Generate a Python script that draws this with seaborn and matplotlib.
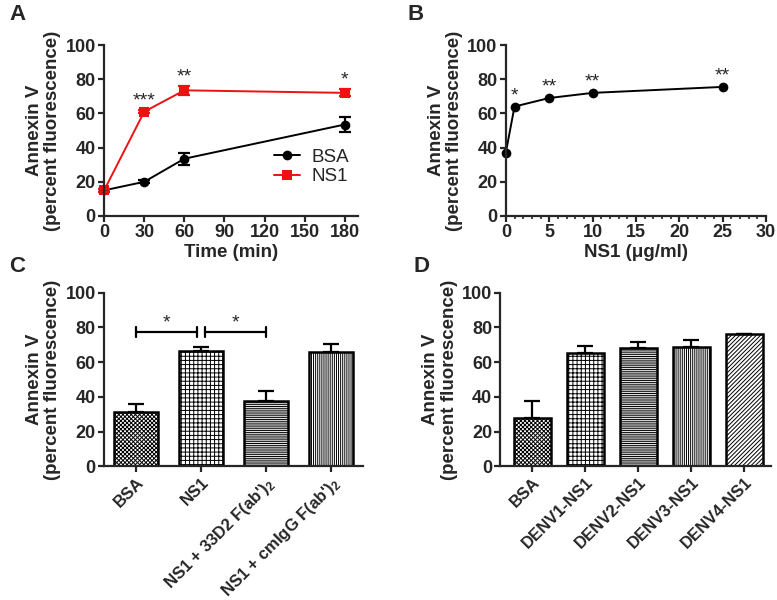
import numpy as np
import pandas as pd
import matplotlib
matplotlib.use("Agg")
import matplotlib.pyplot as plt
import seaborn as sns
from matplotlib.ticker import MultipleLocator

sns.set_style("ticks")
plt.rcParams['font.family'] = ['Liberation Sans', 'DejaVu Sans']
plt.rcParams['font.weight'] = 'bold'
plt.rcParams['axes.labelweight'] = 'bold'
plt.rcParams['mathtext.default'] = 'regular'
plt.rcParams['hatch.linewidth'] = 0.7
plt.rcParams['axes.linewidth'] = 1.6
plt.rcParams['xtick.major.width'] = 1.6
plt.rcParams['ytick.major.width'] = 1.6

# Panel A: time course
time_min = [0, 30, 60, 180]
bsa_time = [15, 20, 33.5, 53.5]
bsa_time_err = [0.8, 0.8, 3.5, 4.5]
ns1_time = [15, 61, 73.5, 72]
ns1_time_err = [0.8, 1.0, 2.5, 2.0]
stars_time = ['', '***', '**', '*']

# Panel B: dose response
dose = [0, 1, 5, 10, 25]
dose_resp = [37, 64, 69, 72, 75.5]
stars_dose = ['', '*', '**', '**', '**']

# Panel C: blocking
c_labels = ['BSA', 'NS1', "NS1 + 33D2 F(ab')$_2$", "NS1 + cmIgG F(ab')$_2$"]
c_values = [31, 66.5, 37.5, 66]
c_err = [5, 2.5, 6, 4.5]
c_hatch = ['xxxxxxxx', '++++', '---------', '||||||||']

# Panel D: serotypes
d_labels = ['BSA', 'DENV1-NS1', 'DENV2-NS1', 'DENV3-NS1', 'DENV4-NS1']
d_values = [28, 65.5, 68, 68.5, 76]
d_err = [9.5, 4, 3.5, 4, 0.5]
d_hatch = ['xxxxxxxx', '++++', '---------', '||||||||', '////////']

fig = plt.figure(figsize=(7.77, 6), dpi=100)
axA = fig.add_axes([0.134, 0.64, 0.327, 0.285])
axB = fig.add_axes([0.651, 0.64, 0.335, 0.285])
axC = fig.add_axes([0.134, 0.223, 0.333, 0.289])
axD = fig.add_axes([0.644, 0.223, 0.348, 0.289])

ylab = 'Annexin V\n(percent fluorescence)'
tick_fs = 13


def style_y(ax):
    ax.set_ylim(0, 100)
    ax.yaxis.set_major_locator(MultipleLocator(20))
    ax.set_ylabel(ylab, fontsize=13.5, fontweight='bold', labelpad=3,
                  linespacing=1.1)
    sns.despine(ax=ax)
    ax.tick_params(labelsize=tick_fs, length=4, width=1.6, pad=2)
    for t in ax.get_xticklabels() + ax.get_yticklabels():
        t.set_fontweight('bold')


# A
dfA = pd.DataFrame({'time': time_min * 2,
                    'value': bsa_time + ns1_time,
                    'group': ['BSA'] * 4 + ['NS1'] * 4})
sns.lineplot(data=dfA, x='time', y='value', hue='group', style='group',
             palette={'BSA': 'black', 'NS1': '#ee1111'},
             markers={'BSA': 'o', 'NS1': 's'}, dashes=False,
             markersize=7, markeredgewidth=0, linewidth=1.4, ax=axA, clip_on=False)
axA.errorbar(time_min, bsa_time, yerr=bsa_time_err, fmt='none', ecolor='black',
             elinewidth=1.6, capsize=4, capthick=1.6, clip_on=False)
axA.errorbar(time_min, ns1_time, yerr=ns1_time_err, fmt='none', ecolor='#ee1111',
             elinewidth=1.6, capsize=4, capthick=1.6, clip_on=False)
for x, y, e, s in zip(time_min, ns1_time, ns1_time_err, stars_time):
    if s:
        axA.text(x, y + e + 0.5, s, ha='center', va='bottom', fontsize=14,
                 fontweight='normal')
axA.set_xlim(0, 190)
axA.set_xticks(range(0, 181, 30))
axA.set_xlabel('Time (min)', fontsize=13.5, fontweight='bold', labelpad=2)
leg = axA.legend(loc='lower right', bbox_to_anchor=(1.03, 0.08), frameon=False,
                 fontsize=13.5, handlelength=1.4, handletextpad=0.6, labelspacing=0.15)
for t in leg.get_texts():
    t.set_fontweight('normal')
style_y(axA)

# B
dfB = pd.DataFrame({'dose': dose, 'value': dose_resp})
sns.lineplot(data=dfB, x='dose', y='value', color='black', marker='o',
             markersize=7, markeredgewidth=0, linewidth=1.4, ax=axB, clip_on=False)
for x, y, s in zip(dose, dose_resp, stars_dose):
    if s:
        axB.text(x, y + 1.5, s, ha='center', va='bottom', fontsize=14,
                 fontweight='normal')
axB.set_xlim(0, 30)
axB.xaxis.set_major_locator(MultipleLocator(5))
axB.xaxis.set_minor_locator(MultipleLocator(1))
axB.tick_params(axis='x', which='minor', length=2.5, width=1.2)
axB.set_xlabel('NS1 (\u03bcg/ml)', fontsize=13.5, fontweight='bold', labelpad=2)
style_y(axB)


def bar_panel(ax, labels, values, errs, hatches, width):
    df = pd.DataFrame({'cond': labels, 'value': values})
    sns.barplot(data=df, x='cond', y='value', color='white', edgecolor='black',
                linewidth=1.8, width=width, ax=ax)
    for p, h in zip(ax.patches, hatches):
        p.set_hatch(h)
    xs = [p.get_x() + p.get_width() / 2 for p in ax.patches]
    ax.errorbar(xs, values, yerr=[np.zeros(len(errs)), errs], fmt='none',
                ecolor='black', elinewidth=1.6, capsize=6, capthick=1.6)
    ax.set_xlabel('')
    ax.set_xticks(range(len(labels)))
    style_y(ax)
    ax.set_xticklabels(labels, rotation=45, ha='right', rotation_mode='anchor',
                       fontsize=12, fontweight='bold')
    return xs


# C
xs = bar_panel(axC, c_labels, c_values, c_err, c_hatch, 0.68)
axC.set_xlim(-0.5, 3.5)
br_y = 77.5
for x0, x1 in [(xs[0], xs[1] - 0.06), (xs[1] + 0.06, xs[2])]:
    axC.plot([x0, x1], [br_y, br_y], color='black', lw=1.6)
    axC.plot([x0, x0], [br_y - 3, br_y + 3], color='black', lw=1.6)
    axC.plot([x1, x1], [br_y - 3, br_y + 3], color='black', lw=1.6)
    axC.text((x0 + x1) / 2, br_y, '*', ha='center', va='bottom', fontsize=14,
             fontweight='normal')

# D
bar_panel(axD, d_labels, d_values, d_err, d_hatch, 0.7)
axD.set_xlim(-0.6, 4.5)

for lbl, x, y in [('A', 0.012, 0.975), ('B', 0.525, 0.975),
                  ('C', 0.012, 0.556), ('D', 0.532, 0.556)]:
    fig.text(x, y, lbl, fontsize=16, fontweight='bold', ha='left', va='center')

fig.savefig('out.png', dpi=100)
